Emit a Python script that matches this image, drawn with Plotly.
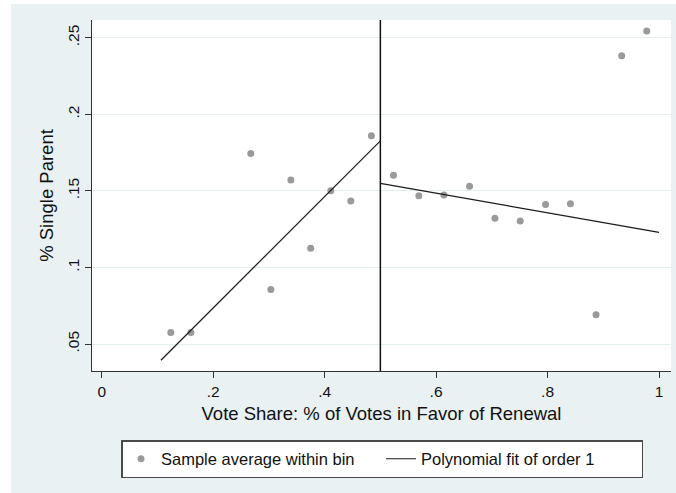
import plotly.graph_objects as go

# Binned sample averages: vote share (x) vs. share of single-parent households (y)
bin_x_left = [0.124, 0.160, 0.2675, 0.3035, 0.3394, 0.375, 0.411, 0.447, 0.484]
bin_y_left = [0.0576, 0.0576, 0.1745, 0.0857, 0.1571, 0.1125, 0.1501, 0.1434, 0.1860]
bin_x_right = [0.5235, 0.569, 0.614, 0.660, 0.7056, 0.751, 0.7965, 0.841, 0.887, 0.933, 0.978]
bin_y_right = [0.1602, 0.1468, 0.1473, 0.1530, 0.1321, 0.1303, 0.1412, 0.1416, 0.0691, 0.2382, 0.2544]

# Linear fits on each side of the 50% threshold (endpoints of each fitted segment)
fit_x_left = [0.1063, 0.5]
fit_y_left = [0.0394, 0.1827]
fit_x_right = [0.5, 1.0]
fit_y_right = [0.1549, 0.1229]

cutoff = 0.5

x_ticks = [0, 0.2, 0.4, 0.6, 0.8, 1]
x_tick_labels = ["0", ".2", ".4", ".6", ".8", "1"]
y_ticks = [0.05, 0.1, 0.15, 0.2, 0.25]
y_tick_labels = [".05", ".1", ".15", ".2", ".25"]

FONT = "Liberation Sans, Arial, Helvetica, sans-serif"
REGION_BG = "#E9F1F3"
MARKER_GRAY = "#9A9A9A"
INK = "#111111"

fig = go.Figure()

fig.add_trace(go.Scatter(
    x=bin_x_left + bin_x_right,
    y=bin_y_left + bin_y_right,
    mode="markers",
    marker=dict(size=7, color=MARKER_GRAY, line=dict(width=0)),
    name="Sample average within bin",
))
fig.add_trace(go.Scatter(
    x=fit_x_left, y=fit_y_left, mode="lines",
    line=dict(color="#1a1a1a", width=1.2),
    name="Polynomial fit of order 1",
    legendgroup="fit",
))
fig.add_trace(go.Scatter(
    x=fit_x_right, y=fit_y_right, mode="lines",
    line=dict(color="#1a1a1a", width=1.2),
    name="Polynomial fit of order 1",
    legendgroup="fit", showlegend=False,
))

# Threshold line at 50% vote share
fig.add_shape(type="line", xref="x", yref="paper",
              x0=cutoff, x1=cutoff, y0=0, y1=1,
              line=dict(color=INK, width=1.5))

# White margin strips along the top and left edges of the graph region
fig.add_shape(type="rect", xref="paper", yref="paper",
              x0=-0.3, x1=-0.1399, y0=-0.5, y1=1.2,
              fillcolor="white", line=dict(width=0), layer="below")
fig.add_shape(type="rect", xref="paper", yref="paper",
              x0=-0.3, x1=1.2, y0=1.0456, y1=1.2,
              fillcolor="white", line=dict(width=0), layer="below")

fig.update_layout(
    width=676, height=493,
    margin=dict(l=92, r=5, t=20, b=122),
    paper_bgcolor=REGION_BG,
    plot_bgcolor="white",
    font=dict(family=FONT, color=INK),
    showlegend=True,
    legend=dict(
        orientation="h",
        x=0.0501, xanchor="left",
        y=-0.1966, yanchor="top",
        bgcolor="white",
        bordercolor="#4a4a4a", borderwidth=1.5,
        font=dict(size=16.5, family=FONT, color=INK),
        itemwidth=30,
        entrywidth=215,
        tracegroupgap=0,
    ),
    xaxis=dict(
        range=[-0.0174, 1.0215],
        tickvals=x_ticks, ticktext=x_tick_labels,
        ticks="outside", ticklen=6, tickcolor="#333333", tickwidth=1,
        tickfont=dict(size=15.5),
        showline=True, linecolor="#333333", linewidth=1,
        showgrid=False, zeroline=False,
        title=dict(text="Vote Share: % of Votes in Favor of Renewal",
                   font=dict(size=18.5), standoff=8),
    ),
    yaxis=dict(
        range=[0.0324, 0.2616],
        tickvals=y_ticks, ticktext=y_tick_labels,
        tickangle=-90,
        ticks="outside", ticklen=6, tickcolor="#333333", tickwidth=1,
        tickfont=dict(size=15.5),
        showline=True, linecolor="#333333", linewidth=1,
        showgrid=True, gridcolor="#E4EDEF", gridwidth=1,
        zeroline=False,
        title=dict(text="% Single Parent", font=dict(size=18.5), standoff=6),
    ),
)

fig.write_html("out.html")
